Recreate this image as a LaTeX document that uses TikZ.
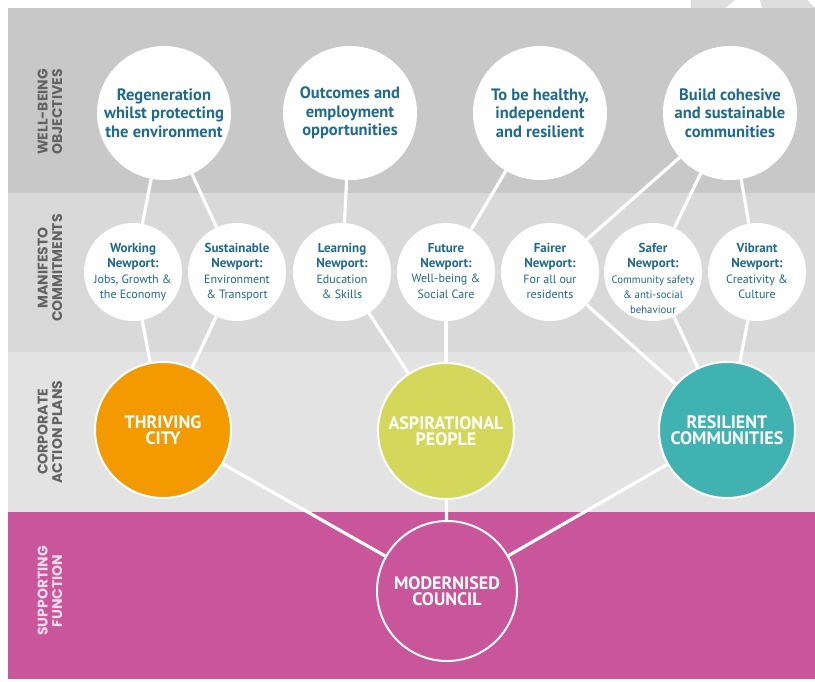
\documentclass[tikz,border=0pt]{standalone}
\usepackage{fontspec}
\setmainfont{PT Sans}
\newfontfamily\sidefont{Poppins}
\definecolor{bandA}{HTML}{C8C8C8}
\definecolor{bandB}{HTML}{D9D9D9}
\definecolor{bandC}{HTML}{E3E3E3}
\definecolor{bandD}{HTML}{C9559A}
\definecolor{topgray}{HTML}{DEDEDE}
\definecolor{txtblue}{HTML}{1F6A8E}
\definecolor{sidegray}{HTML}{636363}
\definecolor{sidepink}{HTML}{F6DCEB}
\definecolor{corange}{HTML}{F29A00}
\definecolor{clime}{HTML}{D3D85B}
\definecolor{cteal}{HTML}{3FB2B1}
\pgfdeclarelayer{bg}
\pgfsetlayers{bg,main}
\begin{document}
\begin{tikzpicture}[x=1pt,y=-1pt,
  objcircle/.style={circle,fill=white,inner sep=0pt,minimum size=134pt,
    text=txtblue,align=center,font=\bfseries\fontsize{16.5}{18.5}\selectfont},
  mancircle/.style={circle,fill=white,inner sep=0pt,minimum size=98pt},
  mantext/.style={anchor=north,inner sep=0pt,align=center,text=txtblue,
    font=\fontsize{12}{15.3}\selectfont},
  plancircle/.style={circle,draw=white,line width=2pt,inner sep=0pt,minimum size=136pt,
    text=white,align=center,font=\bfseries\fontsize{18}{16.5}\selectfont},
  sidelabel/.style={rotate=90,align=center,inner sep=0pt,
    font=\sidefont\bfseries\fontsize{14}{14.5}\selectfont},
  conn/.style={draw=white,line width=3.2pt}
]
\begin{pgfonlayer}{bg}
\fill[white] (0,0) rectangle (815,681);
\fill[topgray] (691,0) -- (735,0) -- (725,8) -- (691,8) -- cycle;
\fill[topgray] (760,0) -- (807,0) -- (815,8) -- (762,8) -- cycle;
\fill[bandA] (8,8) rectangle (815,193);
\fill[bandB] (8,193) rectangle (815,352);
\fill[bandC] (8,352) rectangle (815,512);
\fill[bandD] (8,512) rectangle (815,679);
\end{pgfonlayer}

% side labels
\node[sidelabel,text=sidegray] (s1) at (50,112) {WELL-BEING\\OBJECTIVES};
\node[sidelabel,text=sidegray] (s2) at (50,268) {MANIFESTO\\COMMITMENTS};
\node[sidelabel,text=sidegray] (s3) at (50,432) {CORPORATE\\ACTION PLANS};
\node[sidelabel,text=sidepink] (s4) at (50,591) {SUPPORTING\\FUNCTION};

% well-being objectives
\node[objcircle] (o1) at (164,113) {Regeneration\\whilst protecting\\the environment};
\node[objcircle] (o2) at (350,113) {Outcomes and\\employment\\opportunities};
\node[objcircle] (o3) at (540,113) {To be healthy,\\independent\\and resilient};
\node[objcircle] (o4) at (730,113) {Build cohesive\\and sustainable\\communities};

% manifesto commitments
\node[mancircle] (m1) at (133,272) {};
\node[mancircle] (m2) at (237,272) {};
\node[mancircle] (m3) at (342,272) {};
\node[mancircle] (m4) at (446,272) {};
\node[mancircle] (m5) at (550,272) {};
\node[mancircle] (m6) at (653,272) {};
\node[mancircle] (m7) at (757,272) {};
\newcommand{\mb}[1]{{\bfseries\fontsize{13}{15.3}\selectfont #1}}
\node[mantext] (t1) at (133,243) {\mb{Working}\\\mb{Newport:}\\Jobs, Growth \&\\the Economy};
\node[mantext] (t2) at (237,243) {\mb{Sustainable}\\\mb{Newport:}\\Environment\\\& Transport};
\node[mantext] (t3) at (342,243) {\mb{Learning}\\\mb{Newport:}\\Education\\\& Skills};
\node[mantext] (t4) at (446,243) {\mb{Future}\\\mb{Newport:}\\Well-being \&\\Social Care};
\node[mantext] (t5) at (550,243) {\mb{Fairer}\\\mb{Newport:}\\For all our\\residents};
\node[mantext] (t6) at (653,243) {\mb{Safer}\\\mb{Newport:}\\{\fontsize{10.8}{15.3}\selectfont Community safety}\\{\fontsize{10.8}{15.3}\selectfont \& anti-social}\\{\fontsize{10.8}{15.3}\selectfont behaviour}};
\node[mantext] (t7) at (757,243) {\mb{Vibrant}\\\mb{Newport:}\\Creativity \&\\Culture};

% corporate action plans
\node[plancircle,fill=corange] (p1) at (163,430) {THRIVING\\CITY};
\node[plancircle,fill=clime] (p2) at (446,431) {ASPIRATIONAL\\PEOPLE};
\node[plancircle,fill=cteal] (p3) at (727,430) {RESILIENT\\COMMUNITIES};

% supporting function
\node[plancircle,fill=bandD,minimum size=140pt] (sf) at (447,591) {MODERNISED\\COUNCIL};

% connectors
\draw[conn] (o1) -- (m1);
\draw[conn] (o1) -- (m2);
\draw[conn] (o2) -- (m3);
\draw[conn] (o3) -- (m4);
\draw[conn] (o4) -- (m5);
\draw[conn] (o4) -- (m6);
\draw[conn] (o4) -- (m7);
\draw[conn] (m1) -- (p1);
\draw[conn] (m2) -- (p1);
\draw[conn] (m3) -- (p2);
\draw[conn] (m4) -- (p2);
\draw[conn] (m5) -- (p3);
\draw[conn] (m6) -- (p3);
\draw[conn] (m7) -- (p3);
\draw[conn] (p1) -- (sf);
\draw[conn] (p2) -- (sf);
\draw[conn] (p3) -- (sf);
\end{tikzpicture}
\end{document}
